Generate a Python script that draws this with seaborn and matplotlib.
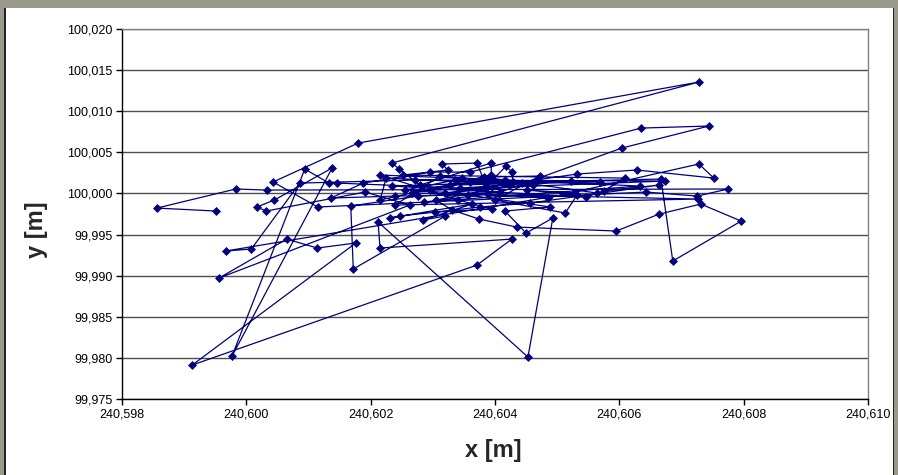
import matplotlib
matplotlib.use("Agg")
import matplotlib.pyplot as plt
from matplotlib.ticker import FuncFormatter, FixedLocator
from matplotlib.patches import Rectangle
import seaborn as sns
import pandas as pd
import numpy as np

# ---- data ----
x_vals = [
    240.59951, 240.59856, 240.59983, 240.60033, 240.60775, 240.60725, 240.60643, 240.60115,
    240.60043, 240.60180, 240.60728, 240.60234, 240.60246, 240.60279, 240.60394, 240.60394,
    240.60215, 240.60225, 240.60461, 240.60320, 240.60532, 240.60628, 240.60752, 240.60728,
    240.60485, 240.60255, 240.60336, 240.60444, 240.60305, 240.60331, 240.60374, 240.60435,
    240.60595, 240.60664, 240.60731, 240.60796, 240.60686, 240.60667, 240.60522, 240.60344,
    240.60146, 240.60133, 240.60094, 240.59977, 240.60138, 240.60045, 240.60017, 240.60032,
    240.60191, 240.60263, 240.59956, 240.60065, 240.60114, 240.60176, 240.59913, 240.60371,
    240.60427, 240.60215, 240.60212, 240.60453, 240.60493, 240.60450, 240.60416, 240.60489,
    240.60357, 240.60239, 240.60136, 240.60188, 240.60296, 240.60360, 240.60635, 240.60744,
    240.60604, 240.60408, 240.60276, 240.60168, 240.60172, 240.60320, 240.60284, 240.60363,
    240.60231, 240.60247, 240.60376, 240.60456, 240.60664, 240.60575, 240.60609, 240.60252,
    240.60324, 240.60315, 240.60371, 240.60386, 240.60418, 240.60427, 240.60429, 240.60234,
    240.60546, 240.60564, 240.60382, 240.60472, 240.60400, 240.60513, 240.60532, 240.60452,
    240.60527, 240.59967, 240.60008, 240.60086, 240.60271, 240.60674, 240.60296, 240.60328,
    240.60569, 240.60360, 240.60267, 240.60727, 240.60239, 240.60312, 240.60347, 240.60633,
    240.60286, 240.60389, 240.60416, 240.60215, 240.60341, 240.60395, 240.60304,
]
y_vals = [
    99.99786, 99.99822, 100.00054, 100.00041, 100.00054, 99.99968, 100.00017, 99.99835,
    100.00139, 100.00613, 100.01355, 100.00370, 100.00297, 100.00102, 100.00370, 100.00224,
    99.99920, 100.00187, 100.00102, 100.00005, 100.00236, 100.00285, 100.00187, 100.00358,
    99.99944, 100.00041, 100.00163, 100.00126, 99.99920, 99.99798, 99.99689, 99.99591,
    99.99543, 99.99749, 99.99871, 99.99664, 99.99178, 100.00175, 100.00151, 100.00066,
    100.00126, 100.00126, 100.00297, 99.98022, 100.00309, 99.99920, 99.99835, 99.99786,
    100.00017, 99.99859, 99.98971, 99.99445, 99.99336, 99.99397, 99.97913, 99.99129,
    99.99445, 99.99336, 99.99652, 99.98010, 99.99701, 99.99518, 99.99786, 99.99835,
    99.99981, 99.99968, 99.99944, 100.00126, 100.00260, 100.00260, 100.00795, 100.00820,
    100.00552, 100.00017, 99.99968, 99.99847, 99.99081, 99.99725, 99.99677, 99.99871,
    99.99701, 99.99725, 99.99835, 99.99883, 100.00102, 100.00029, 100.00187, 100.00224,
    100.00285, 100.00358, 100.00370, 100.00090, 100.00333, 100.00260, 100.00139, 100.00090,
    99.99956, 100.00005, 100.00199, 100.00212, 99.99920, 99.99762, 99.99981, 100.00041,
    100.00005, 99.99300, 99.99324, 100.00126, 100.00163, 100.00151, 100.00041, 100.00102,
    100.00139, 100.00139, 100.00005, 99.99932, 99.99859, 100.00212, 100.00187, 100.00090,
    99.99895, 99.99993, 100.00163, 100.00224, 99.99920, 99.99810, 99.99774,
]
x_ticks = [240.598, 240.600, 240.602, 240.604, 240.606, 240.608, 240.610]
y_ticks = [99.975, 99.980, 99.985, 99.990, 99.995, 100.000, 100.005, 100.010, 100.015, 100.020]
x_label = "x [m]"
y_label = "y [m]"

df = pd.DataFrame({"x": x_vals, "y": y_vals})

sns.set_style("white")
plt.rcParams["font.family"] = ["Liberation Sans", "DejaVu Sans"]

W, H = 898, 475
fig = plt.figure(figsize=(W / 100, H / 100), dpi=100, facecolor="white")

# window-like frame
frame_grey = "#9c9a8b"
fig.patches.append(Rectangle((0, 1 - 8 / H), 1, 8 / H, transform=fig.transFigure,
                             facecolor=frame_grey, edgecolor="none", zorder=-5))
fig.patches.append(Rectangle((0, 0), 4 / W, 1, transform=fig.transFigure,
                             facecolor=frame_grey, edgecolor="none", zorder=-5))
fig.patches.append(Rectangle((4 / W, 0), 1.5 / W, 1 - 8 / H, transform=fig.transFigure,
                             facecolor="#222222", edgecolor="none", zorder=-4))
fig.patches.append(Rectangle((893 / W, 0), 5 / W, 1, transform=fig.transFigure,
                             facecolor=frame_grey, edgecolor="none", zorder=-5))
fig.patches.append(Rectangle((892.5 / W, 0), 1.5 / W, 1 - 8 / H, transform=fig.transFigure,
                             facecolor="#222222", edgecolor="none", zorder=-4))

left, right = 122 / W, 868 / W
bottom, top = 1 - 399 / H, 1 - 29 / H
ax = fig.add_axes([left, bottom, right - left, top - bottom])
ax.set_facecolor("white")

navy = "#000080"
sns.lineplot(data=df, x="x", y="y", sort=False, estimator=None, ax=ax,
             color=navy, linewidth=0.9, marker="D", markersize=4,
             markeredgecolor=navy, markerfacecolor=navy, markeredgewidth=0.5)

ax.set_xlim(x_ticks[0], x_ticks[-1])
ax.set_ylim(y_ticks[0], y_ticks[-1])
ax.xaxis.set_major_locator(FixedLocator(x_ticks))
ax.yaxis.set_major_locator(FixedLocator(y_ticks))
fmt = FuncFormatter(lambda v, p: f"{v:.3f}".replace(".", ","))
ax.xaxis.set_major_formatter(fmt)
ax.yaxis.set_major_formatter(fmt)

ax.yaxis.grid(True, color="#4d4d4d", linewidth=1.0)
ax.xaxis.grid(False)
ax.set_axisbelow(True)

for side in ["left", "bottom"]:
    ax.spines[side].set_color("black")
    ax.spines[side].set_linewidth(1.0)
for side in ["right", "top"]:
    ax.spines[side].set_visible(True)
    ax.spines[side].set_color("#808080")
    ax.spines[side].set_linewidth(1.0)

ax.tick_params(axis="both", which="major", direction="out", length=4, width=1,
               color="black", labelsize=9, labelcolor="black", pad=3,
               bottom=True, left=True)

ax.set_xlabel(x_label, fontsize=17, fontweight="bold")
ax.set_ylabel(y_label, fontsize=17, fontweight="bold")
ax.xaxis.set_label_coords((493 - 122) / 746, (399 - 450) / 370)
ax.xaxis.label.set_va("center")
ax.yaxis.set_label_coords((37 - 122) / 746, (399 - 230) / 370)
ax.yaxis.label.set_va("center")

fig.savefig("out.png", dpi=100, facecolor=fig.get_facecolor())
